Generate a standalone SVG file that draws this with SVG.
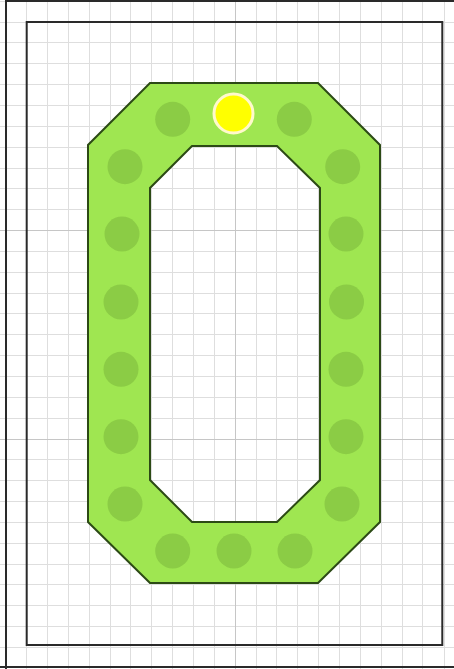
<svg xmlns="http://www.w3.org/2000/svg" width="454" height="669" viewBox="0 0 454 669">
  <style>
    .minor { stroke: #dedede; stroke-width: 1; fill: none; }
    .major { stroke: #c6c6c6; stroke-width: 1; fill: none; }
    .frame { stroke: #2a2a2a; stroke-width: 2; fill: none; }
    .ring { fill: #9fe651; stroke: #2c4a15; stroke-width: 2; fill-rule: evenodd; stroke-linejoin: miter; }
    .dot { fill: #8bcc45; }
    .lamp { fill: #ffff00; stroke: #fff9cc; stroke-width: 3; }
  </style>
  <rect x="0" y="0" width="454" height="669" fill="#ffffff"/>
  <g id="grid">
    <path class="minor" d="M5.5 0V669M26.5 0V669M47.5 0V669M68.5 0V669M89.5 0V669M110.5 0V669M130.5 0V669M151.5 0V669M172.5 0V669M193.5 0V669M214.5 0V669M256.5 0V669M276.5 0V669M297.5 0V669M318.5 0V669M339.5 0V669M360.5 0V669M381.5 0V669M402.5 0V669M422.5 0V669M444.5 0V669
      M0 1.5H454M0 22.5H454M0 42.5H454M0 63.5H454M0 84.5H454M0 105.5H454M0 126.5H454M0 147.5H454M0 168.5H454M0 188.5H454M0 209.5H454M0 251.5H454M0 272.5H454M0 293.5H454M0 313.5H454M0 334.5H454M0 355.5H454M0 376.5H454M0 397.5H454M0 418.5H454M0 459.5H454M0 480.5H454M0 501.5H454M0 522.5H454M0 543.5H454M0 564.5H454M0 584.5H454M0 605.5H454M0 626.5H454M0 647.5H454"/>
    <path class="major" d="M235.5 0V669M0 230.5H454M0 439.5H454"/>
  </g>
  <g id="frames">
    <path class="frame" d="M6 669V1H454M0 667H454"/>
    <rect class="frame" x="26.7" y="22" width="415.6" height="623"/>
  </g>
  <g id="track">
    <path class="ring" d="M150 83H318L380 145V522L318 583H150L88 522V145Z M192 146L150 188V480L192 522H277L320 480V188L277 146Z"/>
  </g>
  <g id="dots">
    <circle class="dot" cx="172.7" cy="119.3" r="17.5"/>
    <circle class="dot" cx="294.3" cy="119.3" r="17.5"/>
    <circle class="dot" cx="125" cy="166.7" r="17.5"/>
    <circle class="dot" cx="122" cy="234" r="17.5"/>
    <circle class="dot" cx="121" cy="302" r="17.5"/>
    <circle class="dot" cx="121" cy="369.3" r="17.5"/>
    <circle class="dot" cx="121" cy="436.7" r="17.5"/>
    <circle class="dot" cx="125" cy="504" r="17.5"/>
    <circle class="dot" cx="342.7" cy="166.7" r="17.5"/>
    <circle class="dot" cx="346" cy="234" r="17.5"/>
    <circle class="dot" cx="346.5" cy="302" r="17.5"/>
    <circle class="dot" cx="346" cy="369.3" r="17.5"/>
    <circle class="dot" cx="346" cy="436.7" r="17.5"/>
    <circle class="dot" cx="342" cy="504" r="17.5"/>
    <circle class="dot" cx="172.7" cy="551" r="17.5"/>
    <circle class="dot" cx="234" cy="551" r="17.5"/>
    <circle class="dot" cx="295" cy="551" r="17.5"/>
  </g>
  <g id="lamp">
    <circle class="lamp" cx="233.5" cy="113.5" r="19.5"/>
  </g>
</svg>
